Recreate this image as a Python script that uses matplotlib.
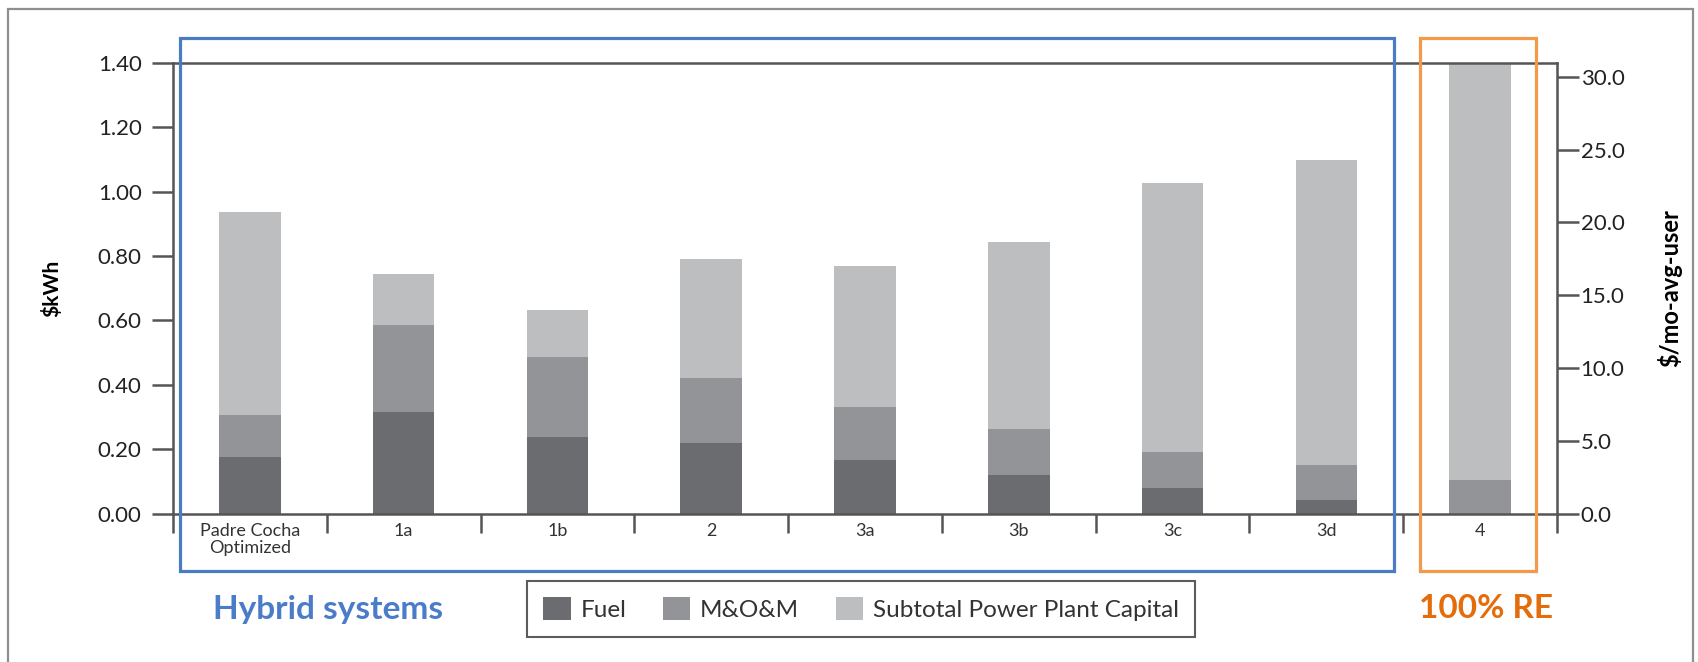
import matplotlib
matplotlib.use("Agg")
import matplotlib.pyplot as plt
from matplotlib.patches import Rectangle, Patch
import numpy as np

categories = ["Padre Cocha\nOptimized", "1a", "1b", "2", "3a", "3b", "3c", "3d", "4"]
fuel = [0.176, 0.314, 0.238, 0.220, 0.166, 0.120, 0.078, 0.043, 0.0]
mom = [0.131, 0.271, 0.247, 0.200, 0.164, 0.144, 0.113, 0.109, 0.105]
capital = [0.631, 0.158, 0.146, 0.371, 0.440, 0.581, 0.837, 0.947, 1.295]
series_names = ["Fuel", "M&O&M", "Subtotal Power Plant Capital"]
left_ticks = [0.0, 0.2, 0.4, 0.6, 0.8, 1.0, 1.2, 1.4]
right_ticks = [0.0, 5.0, 10.0, 15.0, 20.0, 25.0, 30.0]
ratio = 22.11  # $/mo-avg-user per $/kWh

colors = ["#6b6c70", "#929497", "#bdbec0"]
plt.rcParams["font.family"] = ["Lato", "DejaVu Sans"]

W, H = 1699, 662
fig = plt.figure(figsize=(W / 100, H / 100), dpi=100)

def fx(px):
    return px / W

def fy(py):
    return 1 - py / H

AX_L, AX_R, AX_T, AX_B = 173, 1557, 62.8, 513.6
ax = fig.add_axes([fx(AX_L), fy(AX_B), fx(AX_R) - fx(AX_L), fy(AX_T) - fy(AX_B)])
x = np.arange(len(categories))
bw = 0.40
ax.bar(x, fuel, bw, color=colors[0], zorder=2)
ax.bar(x, mom, bw, bottom=fuel, color=colors[1], zorder=2)
bottom2 = np.array(fuel) + np.array(mom)
ax.bar(x, capital, bw, bottom=bottom2, color=colors[2], zorder=2)

ax.set_xlim(-0.5, len(categories) - 0.5)
ax.set_ylim(0, 1.40)
ax.set_yticks(left_ticks)
ax.set_yticklabels([f"{v:.2f}" for v in left_ticks], fontsize=16, color="#222222")
ax.set_xticks(x)
ax.set_xticklabels(categories, fontsize=13, color="#333333", linespacing=1.05)
ax.set_xticks(np.arange(-0.5, len(categories)), minor=True)
ax.tick_params(axis="x", which="major", length=0, pad=7)
ax.tick_params(axis="x", which="minor", length=14, width=1.8, color="#555555", direction="out")
ax.tick_params(axis="y", length=15, width=1.8, color="#555555", pad=7.5)
for s in ["left", "right", "top", "bottom"]:
    ax.spines[s].set_color("#555555")
    ax.spines[s].set_linewidth(1.8)
ax.set_ylabel("\\$kWh", fontsize=15, fontweight="bold")
ax.yaxis.set_label_coords((62 - AX_L) / (AX_R - AX_L), 0.5)

ax2 = ax.twinx()
ax2.set_ylim(0, 1.40 * ratio)
ax2.set_yticks(right_ticks)
ax2.set_yticklabels([f"{v:.1f}" for v in right_ticks], fontsize=16, color="#222222")
ax2.tick_params(axis="y", length=16, width=1.8, color="#555555", pad=1)
for s in ["left", "right", "top", "bottom"]:
    ax2.spines[s].set_visible(False)
ax2.set_ylabel("\\$/mo-avg-user", fontsize=17, fontweight="bold", rotation=90)
ax2.yaxis.set_label_coords((1657 - AX_L) / (AX_R - AX_L), 0.5)

# outer frame
fig.add_artist(Rectangle((fx(8), fy(720)), fx(1693) - fx(8), fy(9) - fy(720),
                         transform=fig.transFigure, fill=False, edgecolor="#8f8f8f", lw=1.6))
# highlight boxes
fig.add_artist(Rectangle((fx(180), fy(571)), fx(1394) - fx(180), fy(38) - fy(571),
                         transform=fig.transFigure, fill=False, edgecolor="#4a7cc4", lw=2.3, zorder=5))
fig.add_artist(Rectangle((fx(1420), fy(571)), fx(1536) - fx(1420), fy(38) - fy(571),
                         transform=fig.transFigure, fill=False, edgecolor="#f39a4a", lw=2.3, zorder=5))
fig.text(fx(328), fy(609), "Hybrid systems", color="#4a7cc8", fontsize=24, fontweight="bold",
         ha="center", va="center")
fig.text(fx(1486), fy(609), "100% RE", color="#e46c0a", fontsize=24, fontweight="bold",
         ha="center", va="center")

handles = [Patch(facecolor=c, edgecolor="none") for c in colors]
leg = fig.legend(handles, series_names, loc="center", bbox_to_anchor=(fx(861), fy(609)),
                 ncol=3, fontsize=17.5, frameon=True, fancybox=False, handlelength=1.13,
                 handleheight=1.1, handletextpad=0.4, columnspacing=1.5, borderpad=0.65,
                 borderaxespad=0)
leg.get_frame().set_edgecolor("#333333")
leg.get_frame().set_linewidth(1.5)
for t in leg.get_texts():
    t.set_color("#333333")

fig.savefig("out.png", dpi=100)
